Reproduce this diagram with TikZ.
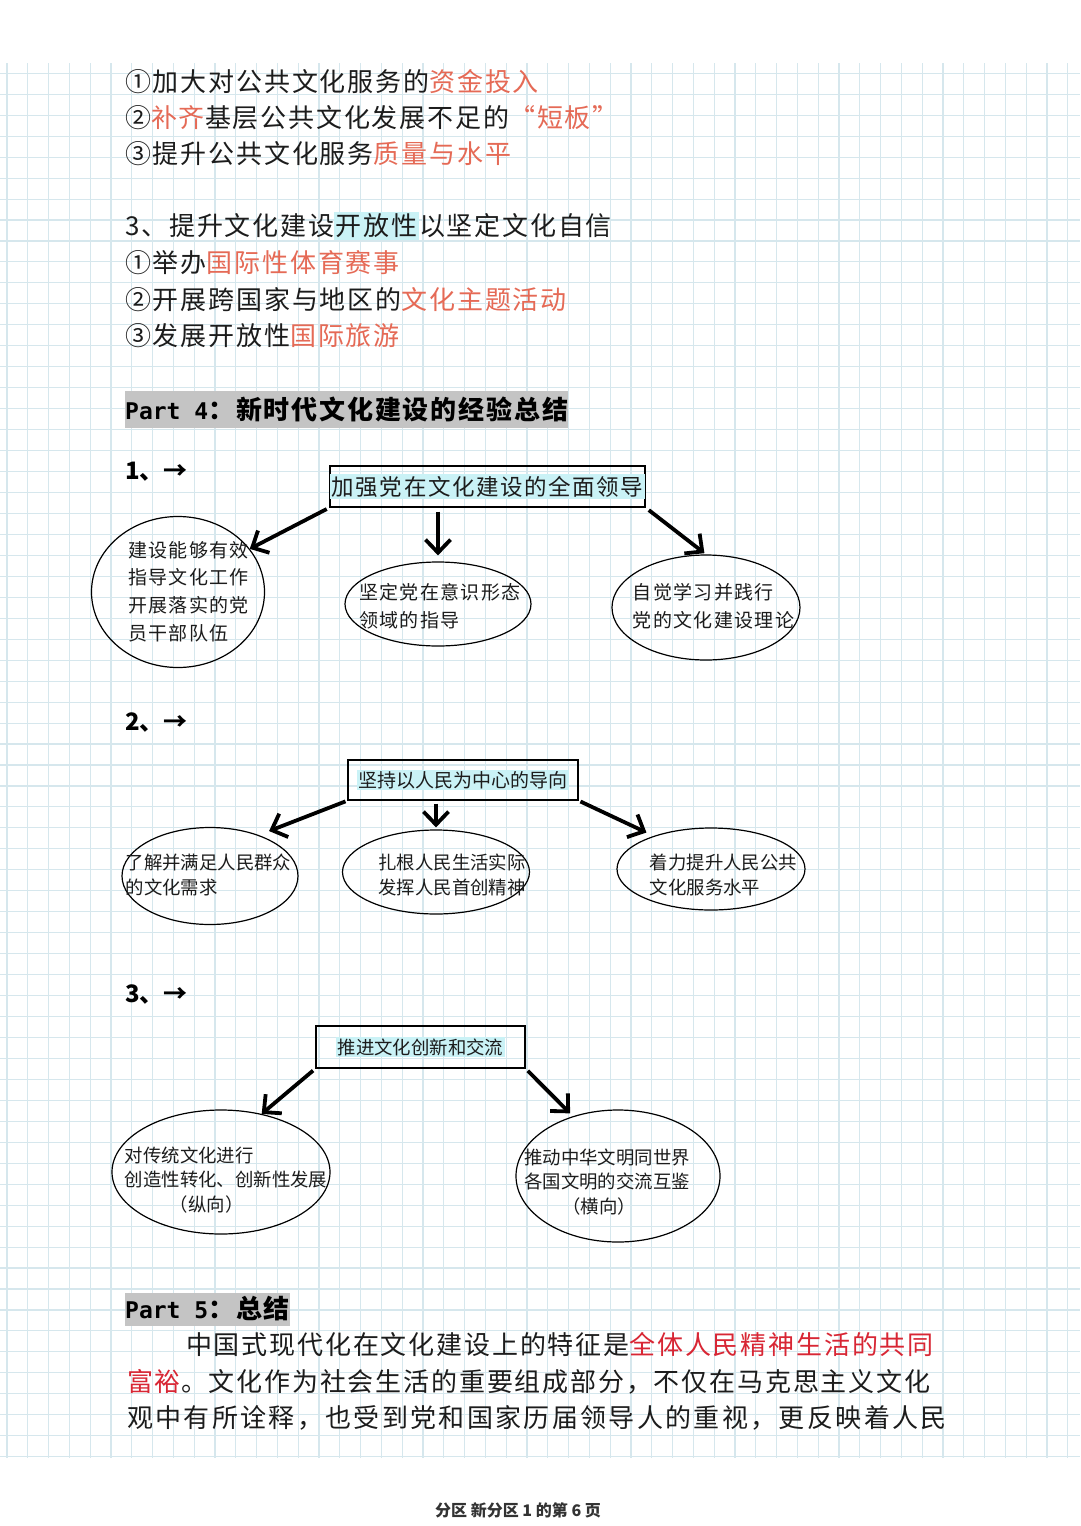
\documentclass[tikz,border=0pt]{standalone}
\usepackage{fontspec}
\setmainfont{Noto Sans CJK SC}
\newfontfamily\widecjk{Noto Sans CJK SC}[LetterSpace=7]
\newfontfamily\monob{DejaVu Sans Mono}
\usetikzlibrary{arrows.meta,positioning,shapes.geometric}
\definecolor{gridline}{RGB}{214,231,237}
\definecolor{hilite}{RGB}{202,242,246}
\definecolor{coral}{RGB}{229,106,86}
\definecolor{crimson}{RGB}{216,38,52}
\definecolor{headgray}{RGB}{196,196,196}
\definecolor{ink}{RGB}{28,28,28}
\newcommand\cyanbg[1]{{\setlength\fboxsep{1.5pt}\colorbox{hilite}{#1}}}
\newcommand\bodysize{\widecjk\fontsize{26}{30}\selectfont}
\newcommand\kaisize{\widecjk\fontsize{19}{27.8}\selectfont}
\newcommand\songsize{\fontsize{18.4}{24.5}\selectfont}
\tikzset{
  para/.style={anchor=west,inner sep=0pt,text=ink,font=\bodysize},
  parthead/.style={anchor=west,inner sep=0pt,fill=headgray,text=black,minimum height=37pt},
  numtag/.style={anchor=west,inner sep=0pt,font=\fontsize{24}{26}\selectfont\bfseries},
  topic/.style={draw=black,line width=1.3pt,inner sep=0pt,text=ink},
  idea/.style={ellipse,draw=black,line width=1.2pt,inner sep=0pt},
  ideatext/.style={align=left,inner sep=0pt,text=ink},
  flow/.style={-{Straight Barb[length=13pt,width=25pt]},line width=3.8pt,black}
}

\begin{document}
\begin{tikzpicture}[x=1pt,y=-1pt]
  \useasboundingbox (0,0) rectangle (1080,1526);
  \fill[white] (0,0) rectangle (1080,1526);
  % squared paper
  \foreach \gx in {0,...,51}
    \draw[gridline,line width=1.1pt] ({7+20.8*\gx},63) -- ({7+20.8*\gx},1458);
  \foreach \gy in {0,...,66}
    \draw[gridline,line width=1.1pt] (0,{73.3+20.96*\gy}) -- (1080,{73.3+20.96*\gy});

  \node[para] (fund) at (125,82) {①加大对公共文化服务的\textcolor{coral}{资金投入}};
  \node[para] (gap) at (125,118) {②\textcolor{coral}{补齐}基层公共文化发展不足的\textcolor{coral}{“短板”}};
  \node[para] (quality) at (125,154) {③提升公共文化服务\textcolor{coral}{质量与水平}};
  \node[para] (open) at (125,226) {3、提升文化建设\cyanbg{开放性}以坚定文化自信};
  \node[para] (sport) at (125,263) {①举办\textcolor{coral}{国际性体育赛事}};
  \node[para] (theme) at (125,300) {②开展跨国家与地区的\textcolor{coral}{文化主题活动}};
  \node[para] (tour) at (125,336) {③发展开放性\textcolor{coral}{国际旅游}};

  \node[parthead] (part4) at (125,409)
    {{\monob\bfseries\fontsize{23}{26}\selectfont Part 4}{\widecjk\bfseries\fontsize{26}{30}\selectfont ：新时代文化建设的经验总结\hspace{4pt}}};

  % 1
  \node[numtag] (num1) at (125,472) {1、→};
  \node[topic,minimum width=315pt,minimum height=41pt,font=\widecjk\fontsize{22.5}{26}\selectfont]
    (party) at (487.5,486.5) {\cyanbg{加强党在文化建设的全面领导}};
  \node[idea,minimum width=173pt,minimum height=151pt] (cadre) at (178,592) {};
  \node[ideatext,font=\kaisize] (cadretext) at (188.5,591.5)
    {建设能够有效\\指导文化工作\\开展落实的党\\员干部队伍};
  \node[idea,minimum width=186pt,minimum height=84pt] (ideology) at (438,604) {};
  \node[ideatext,font=\kaisize] (ideologytext) at (440,606) {坚定党在意识形态\\领域的指导};
  \node[idea,minimum width=188pt,minimum height=105pt] (theory) at (706,607.5) {};
  \node[ideatext,font=\kaisize] (theorytext) at (713.5,606) {自觉学习并践行\\党的文化建设理论};
  \draw[flow,shorten <=3pt] (party.south west) -- (cadre.31);
  \draw[flow,shorten <=4pt,shorten >=6pt] (party.south -| ideology.north) -- (ideology.north);
  \draw[flow,shorten <=4pt,shorten >=2pt] (party.south east) -- (theory.north);

  % 2
  \node[numtag] (num2) at (125,723) {2、→};
  \node[topic,minimum width=230pt,minimum height=40pt,font=\fontsize{19}{22}\selectfont]
    (people) at (463,780) {\cyanbg{坚持以人民为中心的导向}};
  \node[idea,minimum width=176pt,minimum height=97pt] (needs) at (210,876) {};
  \node[ideatext,font=\songsize] (needstext) at (208.5,875) {了解并满足人民群众\\的文化需求};
  \node[idea,minimum width=187pt,minimum height=84pt] (roots) at (436,872) {};
  \node[ideatext,font=\songsize] (rootstext) at (452,875) {扎根人民生活实际\\发挥人民首创精神};
  \node[idea,minimum width=188pt,minimum height=82pt] (service) at (711,869) {};
  \node[ideatext,font=\songsize] (servicetext) at (723.5,875) {着力提升人民公共\\文化服务水平};
  \draw[flow,shorten <=2pt,shorten >=11pt] (people.south west) -- (needs.40);
  \draw[flow,shorten <=3pt,shorten >=2pt] (people.south -| roots.north) -- (roots.north);
  \draw[flow,shorten <=2pt,shorten >=8pt] (people.south east) -- (service.150);

  % 3
  \node[numtag] (num3) at (125,995) {3、→};
  \node[topic,minimum width=209pt,minimum height=42pt,font=\fontsize{18.4}{22}\selectfont]
    (innov) at (420.5,1047) {\cyanbg{推进文化创新和交流}};
  \node[idea,minimum width=218pt,minimum height=124pt] (vertical) at (221,1172) {};
  \node[ideatext,font=\songsize] (verticaltext) at (226,1180)
    {对传统文化进行\\创造性转化、创新性发展\\\hspace*{45pt}（纵向）};
  \node[idea,minimum width=204pt,minimum height=132pt] (horizontal) at (618,1176) {};
  \node[ideatext,font=\songsize] (horizontaltext) at (607,1182)
    {推动中华文明同世界\\各国文明的交流互鉴\\\hspace*{38pt}（横向）};
  \draw[flow,shorten <=3pt] (innov.south west) -- (vertical.55);
  \draw[flow,shorten <=3pt,shorten >=4pt] (innov.south east) -- (horizontal.127);

  \node[parthead,minimum height=33pt] (part5) at (125,1309)
    {{\monob\bfseries\fontsize{23}{26}\selectfont Part 5}{\widecjk\bfseries\fontsize{26}{30}\selectfont ：总结\hspace{4pt}}};
  \node[para] (sum1) at (186,1345) {中国式现代化在文化建设上的特征是\textcolor{crimson}{全体人民精神生活的共同}};
  \node[para] (sum2) at (127,1382) {\textcolor{crimson}{富裕}。文化作为社会生活的重要组成部分，不仅在马克思主义文化};
  \node[para] (sum3) at (127,1418) {\addfontfeature{LetterSpace=9}观中有所诠释，也受到党和国家历届领导人的重视，更反映着人民};

  \node[inner sep=0pt,font=\fontsize{16}{18}\selectfont\bfseries,text=black!80] (footer) at (518,1510)
    {分区 新分区 1 的第 6 页};
\end{tikzpicture}
\end{document}
